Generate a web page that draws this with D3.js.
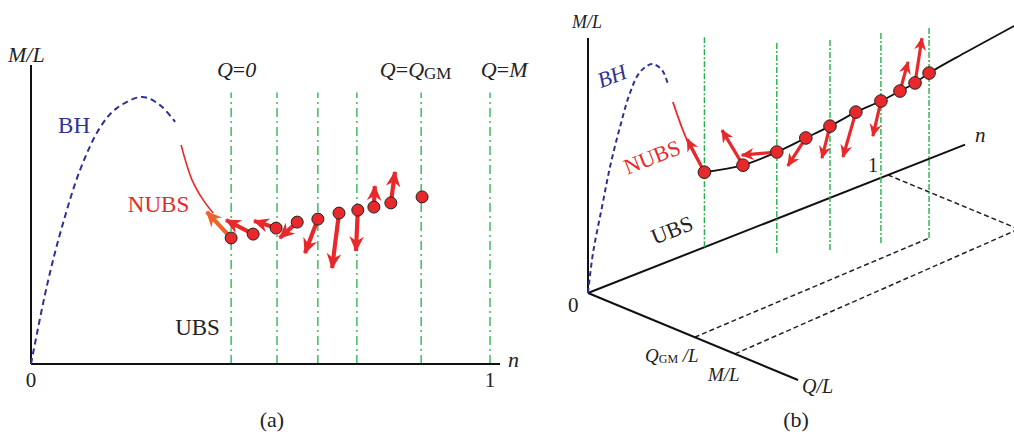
<!DOCTYPE html>
<html lang="en">
<head>
<meta charset="UTF-8">
<script src="https://cdn.jsdelivr.net/npm/d3@7"></script>
<title>BH / NUBS / UBS</title>
<style>
    body { margin: 0; background: white; }
    svg text { font-family: "Liberation Serif", "DejaVu Serif", "Times New Roman", serif; }
    .it { font-style: italic; }
</style>
</head>
<body>
<div id="fig"></div>
<script>
    // ---- panel (a) data: n along x, M/L along y (both 0..1) ----
    const gridA = [0.436, 0.536, 0.625, 0.710, 0.850, 1.0];
    const bhA_n = [0, 0.035, 0.0675, 0.107, 0.150, 0.187, 0.242, 0.281, 0.314];
    const bhA_m = [0, 0.263, 0.457, 0.647, 0.787, 0.853, 0.890, 0.863, 0.807];
    const nubsA_n = [0.327, 0.351, 0.375, 0.397];
    const nubsA_m = [0.730, 0.613, 0.547, 0.503];
    const ptsA_n = [0.436, 0.484, 0.534, 0.580, 0.625, 0.671, 0.712, 0.747, 0.784, 0.852];
    const ptsA_m = [0.420, 0.433, 0.453, 0.473, 0.483, 0.503, 0.513, 0.523, 0.537, 0.557];
    // arrow tips (n, m), null = no arrow
    const tipsA = [[0.383, 0.507], [0.425, 0.480], [0.486, 0.477], [0.542, 0.420], [0.597, 0.370],
                   [0.656, 0.320], [0.708, 0.377], [0.749, 0.593], [0.793, 0.640], null];

    // ---- panel (b) data: (n, Q/L, M/L) ----
    const gridB_n = [0.388, 0.488, 0.591, 0.707, 0.810];
    const gridB_q = [0, 0.202, 0.308, 0.385, 0.467];
    const gridB_top = 0.824;
    const bhB_n = [0, 0.0167, 0.0467, 0.0733, 0.1067, 0.14, 0.173, 0.213, 0.247, 0.267];
    const bhB_m = [0, 0.149, 0.316, 0.460, 0.602, 0.720, 0.786, 0.799, 0.760, 0.692];
    const nubsB_n = [0.283, 0.330, 0.388];
    const nubsB_m = [0.618, 0.447, 0.294];
    const ptsB_n = [0.388, 0.441, 0.488, 0.544, 0.591, 0.650, 0.707, 0.748, 0.780, 0.810];
    const ptsB_q = [0, 0.108, 0.202, 0.260, 0.308, 0.347, 0.385, 0.417, 0.443, 0.467];
    const ptsB_m = [0.294, 0.334, 0.396, 0.445, 0.486, 0.527, 0.557, 0.588, 0.614, 0.647];
    const tailB = [[0.89, 0.53, 0.714], [1.03, 0.62, 0.81]];   // curve continues past last point
    // arrow offsets (dn, dm)
    const tipsB = [[-0.057, 0.156], [-0.070, 0.170], [-0.117, 0.042], [-0.060, -0.082], [-0.027, -0.113],
                   [-0.043, -0.156], [-0.027, -0.125], [0.027, 0.102], [0.023, 0.165], null];
    const qGM = [0.508, 0.467];   // Q_GM/L dashed line, start and end q
    const qM = [0.700, 0.622];    // M/L dashed line
    const nEnd = 1.257;

    const W = 1014, H = 437;
    const red = "#e8292b", blue = "#2e3192", green = "#1fb24a", orange = "#f0622d";

    const svg = d3.select("#fig").append("svg")
        .attr("width", W).attr("height", H);

    const defs = svg.append("defs");
    const addMarker = (id, color, size) => {
        defs.append("marker")
            .attr("id", id)
            .attr("viewBox", "0 -6 14 12")
            .attr("refX", 12).attr("refY", 0)
            .attr("markerUnits", "userSpaceOnUse")
            .attr("markerWidth", size).attr("markerHeight", size)
            .attr("orient", "auto")
            .append("path")
            .attr("d", "M0,-6 L13,0 L0,6 L4,0 Z")
            .attr("fill", color);
    };
    addMarker("headA", red, 17);
    addMarker("headO", orange, 17);
    addMarker("headB", red, 14);

    // ================= panel (a) =================
    const xA = d3.scaleLinear().domain([0, 1]).range([31, 490]);
    const yA = d3.scaleLinear().domain([0, 1]).range([364, 64]);
    const gA = svg.append("g");

    gA.selectAll(".gridA").data(gridA).enter().append("line")
        .attr("x1", d => xA(d)).attr("x2", d => xA(d))
        .attr("y1", yA(0)).attr("y2", yA(0.905))
        .attr("stroke", green).attr("stroke-width", 1.3)
        .attr("stroke-dasharray", "9,4,2,4");

    // axes
    gA.append("line").attr("x1", xA(0)).attr("x2", xA(0)).attr("y1", yA(0)).attr("y2", yA(0.997))
        .attr("stroke", "#111").attr("stroke-width", 2);
    gA.append("line").attr("x1", xA(0)).attr("x2", xA(1.022)).attr("y1", yA(0)).attr("y2", yA(0))
        .attr("stroke", "#111").attr("stroke-width", 2);

    const lineA = d3.line().x(d => xA(d[0])).y(d => yA(d[1])).curve(d3.curveCatmullRom);
    gA.append("path").attr("d", lineA(bhA_n.map((n, i) => [n, bhA_m[i]])))
        .attr("fill", "none").attr("stroke", blue).attr("stroke-width", 2)
        .attr("stroke-dasharray", "6,4");
    gA.append("path").attr("d", lineA(nubsA_n.map((n, i) => [n, nubsA_m[i]])))
        .attr("fill", "none").attr("stroke", red).attr("stroke-width", 1.6);

    const arrowsA = ptsA_n.map((n, i) => ({ n, m: ptsA_m[i], tip: tipsA[i], i })).filter(d => d.tip);
    gA.selectAll(".arrA").data(arrowsA).enter().append("line")
        .attr("x1", d => xA(d.n)).attr("y1", d => yA(d.m))
        .attr("x2", d => xA(d.tip[0])).attr("y2", d => yA(d.tip[1]))
        .attr("stroke", d => d.i === 0 ? orange : red).attr("stroke-width", 4.2)
        .attr("marker-end", d => d.i === 0 ? "url(#headO)" : "url(#headA)");

    gA.selectAll(".ptA").data(ptsA_n).enter().append("circle")
        .attr("cx", d => xA(d)).attr("cy", (d, i) => yA(ptsA_m[i])).attr("r", 6)
        .attr("fill", red).attr("stroke", "#222").attr("stroke-width", 1);

    // texts (a)
    gA.append("text").attr("class", "it").attr("x", 8).attr("y", 62)
        .attr("font-size", 22).attr("fill", "#222").text("M/L");
    gA.append("text").attr("x", xA(0.059)).attr("y", yA(0.77))
        .attr("font-size", 23).attr("fill", blue).text("BH");
    gA.append("text").attr("x", xA(0.211)).attr("y", yA(0.507))
        .attr("font-size", 23).attr("fill", red).text("NUBS");
    gA.append("text").attr("x", xA(0.314)).attr("y", yA(0.097))
        .attr("font-size", 23).attr("fill", "#222").text("UBS");
    gA.append("text").attr("class", "it").attr("x", 508).attr("y", 367)
        .attr("font-size", 22).attr("fill", "#222").text("n");
    gA.selectAll(".tickA").data([0, 1]).enter().append("text")
        .attr("x", d => xA(d)).attr("y", 387).attr("text-anchor", "middle")
        .attr("font-size", 21).attr("fill", "#222").text(d => d);
    gA.append("text").attr("x", 272).attr("y", 427).attr("text-anchor", "middle")
        .attr("font-size", 22).attr("fill", "#222").text("(a)");

    const q0 = gA.append("text").attr("x", xA(0.405)).attr("y", 77).attr("font-size", 22).attr("fill", "#222");
    q0.append("tspan").attr("class", "it").text("Q");
    q0.append("tspan").text("=");
    q0.append("tspan").attr("class", "it").text("0");
    const qg = gA.append("text").attr("x", xA(0.760)).attr("y", 77).attr("font-size", 22).attr("fill", "#222");
    qg.append("tspan").attr("class", "it").text("Q");
    qg.append("tspan").text("=");
    qg.append("tspan").attr("class", "it").text("Q");
    qg.append("tspan").attr("font-size", 17).attr("dy", 2).text("GM");
    const qm = gA.append("text").attr("x", xA(0.980)).attr("y", 77).attr("font-size", 22).attr("fill", "#222");
    qm.append("tspan").attr("class", "it").text("Q");
    qm.append("tspan").text("=");
    qm.append("tspan").attr("class", "it").text("M");

    // ================= panel (b) =================
    const nbX = d3.scaleLinear().domain([0, 1]).range([0, 300]);
    const nbY = d3.scaleLinear().domain([0, 1]).range([0, -118]);
    const qbX = d3.scaleLinear().domain([0, 1]).range([0, 210]);
    const qbY = d3.scaleLinear().domain([0, 1]).range([0, 87]);
    const mbY = d3.scaleLinear().domain([0, 1]).range([0, -255]);
    const ox = 588, oy = 293;
    const proj = (n, q, m) => [ox + nbX(n) + qbX(q), oy + nbY(n) + qbY(q) + mbY(m)];
    const gB = svg.append("g");

    const seg = (a, b, stroke, sw, dash) => gB.append("line")
        .attr("x1", a[0]).attr("y1", a[1]).attr("x2", b[0]).attr("y2", b[1])
        .attr("stroke", stroke).attr("stroke-width", sw).attr("stroke-dasharray", dash || null);

    // base dashed lines
    seg(proj(0, qGM[0], 0), proj(gridB_n[4], qGM[1], 0), "#222", 1.5, "5,3");
    seg(proj(0, qM[0], 0), proj(1.0, qM[1], 0), "#222", 1.5, "5,3");
    seg(proj(1, 0, 0), proj(1.0, qM[1], 0), "#222", 1.5, "5,3");

    // axes
    seg(proj(0, 0, 0), proj(0, 0, 1), "#111", 2);
    seg(proj(0, 0, 0), proj(nEnd, 0, 0), "#111", 2);
    seg(proj(0, 0, 0), proj(0, 1, 0), "#111", 2);

    gB.selectAll(".gridB").data(gridB_n).enter().append("line")
        .attr("x1", (d, i) => proj(d, gridB_q[i], 0)[0]).attr("y1", (d, i) => proj(d, gridB_q[i], 0)[1])
        .attr("x2", (d, i) => proj(d, gridB_q[i], gridB_top)[0]).attr("y2", (d, i) => proj(d, gridB_q[i], gridB_top)[1])
        .attr("stroke", green).attr("stroke-width", 1.4)
        .attr("stroke-dasharray", "6,2,2,2");

    const lineB = d3.line().x(d => proj(d[0], d[1], d[2])[0]).y(d => proj(d[0], d[1], d[2])[1])
        .curve(d3.curveCatmullRom);
    gB.append("path").attr("d", lineB(bhB_n.map((n, i) => [n, 0, bhB_m[i]])))
        .attr("fill", "none").attr("stroke", blue).attr("stroke-width", 2)
        .attr("stroke-dasharray", "5,3.5");
    gB.append("path").attr("d", lineB(nubsB_n.map((n, i) => [n, 0, nubsB_m[i]])))
        .attr("fill", "none").attr("stroke", red).attr("stroke-width", 1.8);
    const curveB = ptsB_n.map((n, i) => [n, ptsB_q[i], ptsB_m[i]]).concat(tailB);
    gB.append("path").attr("d", lineB(curveB))
        .attr("fill", "none").attr("stroke", "#111").attr("stroke-width", 1.8);

    const arrowsB = ptsB_n.map((n, i) => ({ n, q: ptsB_q[i], m: ptsB_m[i], tip: tipsB[i] })).filter(d => d.tip);
    gB.selectAll(".arrB").data(arrowsB).enter().append("line")
        .attr("x1", d => proj(d.n, d.q, d.m)[0]).attr("y1", d => proj(d.n, d.q, d.m)[1])
        .attr("x2", d => proj(d.n + d.tip[0], d.q, d.m + d.tip[1])[0])
        .attr("y2", d => proj(d.n + d.tip[0], d.q, d.m + d.tip[1])[1])
        .attr("stroke", red).attr("stroke-width", 3.2)
        .attr("marker-end", "url(#headB)");

    gB.selectAll(".ptB").data(ptsB_n).enter().append("circle")
        .attr("cx", (d, i) => proj(d, ptsB_q[i], ptsB_m[i])[0])
        .attr("cy", (d, i) => proj(d, ptsB_q[i], ptsB_m[i])[1])
        .attr("r", 6.3).attr("fill", red).attr("stroke", "#222").attr("stroke-width", 1);

    // texts (b)
    const tilt = -21.5;
    const rot = (x, y, txt, color, cls) => gB.append("text")
        .attr("class", cls || null)
        .attr("transform", `translate(${x},${y}) rotate(${tilt})`)
        .attr("text-anchor", "middle").attr("dominant-baseline", "central")
        .attr("font-size", 22).attr("fill", color).text(txt);
    rot(612, 76, "BH", blue, "it");
    rot(652, 157, "NUBS", red);
    rot(672, 230, "UBS", "#222");

    gB.append("text").attr("class", "it").attr("x", 572).attr("y", 28)
        .attr("font-size", 18).attr("fill", "#222").text("M/L");
    gB.append("text").attr("class", "it").attr("x", proj(nEnd, 0, 0)[0] + 10).attr("y", proj(nEnd, 0, 0)[1] - 3)
        .attr("font-size", 21).attr("fill", "#222").text("n");
    gB.append("text").attr("x", proj(1, 0, 0)[0] - 20).attr("y", proj(1, 0, 0)[1] - 3)
        .attr("font-size", 20).attr("fill", "#222").text("1");
    gB.append("text").attr("x", ox - 20).attr("y", oy + 19)
        .attr("font-size", 21).attr("fill", "#222").text("0");

    const tq = gB.append("text").attr("x", 645).attr("y", 362).attr("font-size", 19).attr("fill", "#222");
    tq.append("tspan").attr("class", "it").text("Q");
    tq.append("tspan").attr("font-size", 12).attr("dy", 1).text("GM");
    tq.append("tspan").attr("class", "it").attr("dy", -1).text(" /L");
    gB.append("text").attr("class", "it").attr("x", 708).attr("y", 381)
        .attr("font-size", 19).attr("fill", "#222").text("M/L");
    gB.append("text").attr("class", "it").attr("x", proj(0, 1, 0)[0] + 4).attr("y", proj(0, 1, 0)[1] + 13)
        .attr("font-size", 20).attr("fill", "#222").text("Q/L");
    gB.append("text").attr("x", 796).attr("y", 427).attr("text-anchor", "middle")
        .attr("font-size", 22).attr("fill", "#222").text("(b)");
</script>
</body>
</html>
